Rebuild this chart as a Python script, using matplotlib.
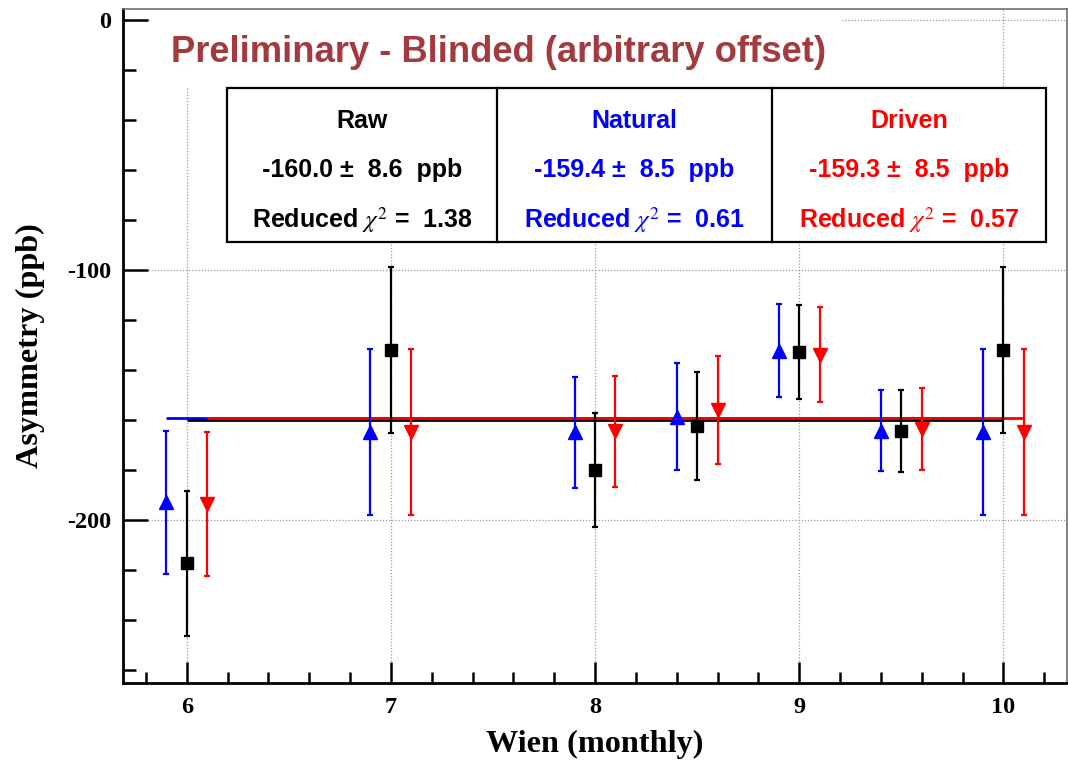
import matplotlib
matplotlib.use("Agg")
import matplotlib.pyplot as plt
from matplotlib.patches import Rectangle
from matplotlib.ticker import MultipleLocator

# Wien periods (monthly)
wien = [6, 7, 8, 8.5, 9, 9.5, 10]

# Raw asymmetry and uncertainties (ppb)
raw_val = [-217.3, -132.0, -180.0, -162.4, -132.9, -164.4, -132.0]
raw_err = [29.0, 33.2, 22.8, 21.7, 18.9, 16.3, 33.3]

# Natural-motion corrected
nat_val = [-192.9, -164.9, -165.0, -158.7, -132.3, -164.3, -164.9]
nat_err = [28.5, 33.2, 22.3, 21.5, 18.7, 16.3, 33.2]

# Driven-motion corrected
drv_val = [-193.7, -164.9, -164.6, -156.0, -134.0, -163.7, -164.9]
drv_err = [28.7, 33.2, 22.3, 21.7, 19.0, 16.3, 33.2]

# Constant fit results
fit_names = ["Raw", "Natural", "Driven"]
fit_mean = [-160.0, -159.4, -159.3]
fit_err = [8.6, 8.5, 8.5]
fit_chi2 = [1.38, 0.61, 0.57]

x_ticks = [6, 7, 8, 9, 10]
y_ticks = [0, -100, -200]

serif = ["Liberation Serif", "DejaVu Serif"]
sans = ["Liberation Sans", "DejaVu Sans"]
plt.rcParams["mathtext.fontset"] = "stix"

fig = plt.figure(figsize=(10.68, 7.6), dpi=100)
ax = fig.add_axes([0.1149, 0.1013, 0.8839, 0.8866])
ax.set_xlim(5.6865, 10.31)
ax.set_ylim(-265.2, 4.3)

series = [
    (raw_val, raw_err, 0.0, "black", "s", 8.5),
    (nat_val, nat_err, -0.1, "#0000ff", "^", 10),
    (drv_val, drv_err, 0.1, "#ff0000", "v", 10),
]

# constant fit lines: natural, raw, driven (driven on top)
for idx, off, col in [(1, -0.1, "#0000ff"), (0, 0.0, "black"), (2, 0.1, "#ff0000")]:
    xs = [w + off for w in wien]
    ax.plot([min(xs), max(xs)], [fit_mean[idx]] * 2, color=col, lw=2.0,
            zorder=3, solid_capstyle="butt")

for vals, errs, off, col, mk, ms in series:
    xs = [w + off for w in wien]
    ax.errorbar(xs, vals, yerr=errs, fmt=mk, color=col, ms=ms, mec=col,
                mfc=col, elinewidth=1.6, capsize=2.2, capthick=1.6, zorder=4)

# axes styling
ax.set_axisbelow(True)
ax.grid(True, color="#9a9a9a", linestyle=(0, (1, 1.5)), linewidth=0.9)
ax.xaxis.set_major_locator(MultipleLocator(1))
ax.xaxis.set_minor_locator(MultipleLocator(0.2))
ax.yaxis.set_major_locator(MultipleLocator(100))
ax.yaxis.set_minor_locator(MultipleLocator(20))
ax.set_xticks(x_ticks)
ax.set_yticks(y_ticks)
ax.set_xticklabels([str(t) for t in x_ticks])
ax.set_yticklabels([str(t) for t in y_ticks])

ax.tick_params(axis="x", which="major", direction="in", length=15, width=1.8,
               pad=10, labelsize=17.5)
ax.tick_params(axis="x", which="minor", direction="in", length=8, width=1.8)
ax.tick_params(axis="y", which="major", direction="in", length=18, width=1.8,
               pad=8.5, labelsize=17.5)
ax.tick_params(axis="y", which="minor", direction="in", length=9, width=1.8)
for lab in ax.get_xticklabels() + ax.get_yticklabels():
    lab.set_fontfamily(serif)
    lab.set_fontweight("bold")

for s in ["left", "bottom"]:
    ax.spines[s].set_linewidth(2.0)
    ax.spines[s].set_color("black")
for s in ["top", "right"]:
    ax.spines[s].set_linewidth(1.2)
    ax.spines[s].set_color("#707070")

ax.set_xlabel("Wien (monthly)", fontsize=23.2, fontweight="bold", family=serif)
ax.set_ylabel("Asymmetry (ppb)", fontsize=23.2, fontweight="bold", family=serif)
ax.xaxis.set_label_coords(0.5, -0.069)
ax.yaxis.set_label_coords(-0.082, 0.5)

# title area
ax.add_patch(Rectangle((0.03, 0.8828), 0.7317, 0.1172, transform=ax.transAxes,
                       facecolor="white", edgecolor="none", zorder=2))
ax.text(0.3978, 0.9214, "Preliminary - Blinded (arbitrary offset)",
        transform=ax.transAxes, ha="center", va="baseline", fontsize=26.2,
        fontweight="bold", family=sans, color="#a33a3d", zorder=5)

# fit result table
box_left, box_right = 0.110, 0.978
box_bottom, box_top = 0.654, 0.883
dividers = [0.397, 0.6875]
ax.add_patch(Rectangle((box_left, box_bottom), box_right - box_left,
                       box_top - box_bottom, transform=ax.transAxes,
                       facecolor="white", edgecolor="black", lw=1.6, zorder=5))
for d in dividers:
    ax.plot([d, d], [box_bottom, box_top], transform=ax.transAxes,
            color="black", lw=1.6, zorder=6)

edges = [box_left] + dividers + [box_right]
colors = ["black", "#0000ff", "#ff0000"]
for i in range(3):
    cx = (edges[i] + edges[i + 1]) / 2
    kw = dict(transform=ax.transAxes, ha="center", va="baseline", fontsize=18,
              fontweight="bold", family=sans, color=colors[i], zorder=7)
    ax.text(cx, 0.8234, fit_names[i], **kw)
    ax.text(cx, 0.7507, f"{fit_mean[i]:.1f} \u00b1  {fit_err[i]:.1f}  ppb", **kw)
    ax.text(cx, 0.675, f"Reduced $\\chi^{{2}}$ =  {fit_chi2[i]:.2f}", **kw)

fig.savefig("out.png", dpi=100)
